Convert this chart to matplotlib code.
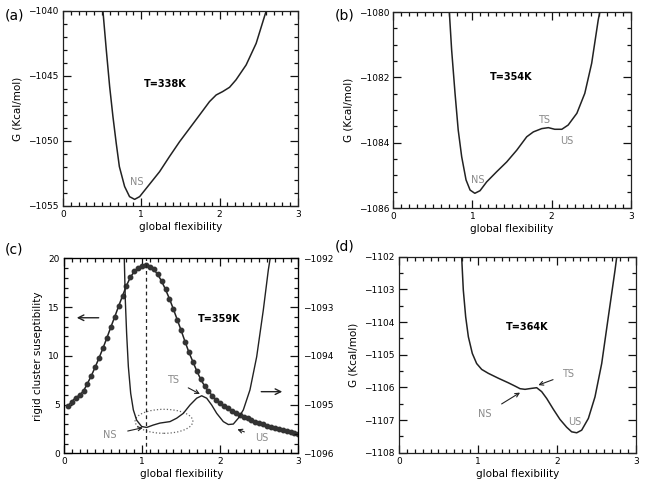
import numpy as np
import matplotlib
matplotlib.use('Agg')
import matplotlib.pyplot as plt
from matplotlib.ticker import MultipleLocator
from matplotlib.patches import Ellipse

# --- data ---
# (a) T=338K
a_x = [0.51, 0.553, 0.596, 0.638, 0.68, 0.72, 0.787, 0.85, 0.915, 0.979, 1.064, 1.149,
       1.234, 1.36, 1.49, 1.617, 1.745, 1.872, 1.957, 2.04, 2.128, 2.21, 2.34, 2.468, 2.596]
a_g = [-1040.0, -1043.0, -1045.82, -1048.13, -1050.18, -1051.97, -1053.5, -1054.28, -1054.49,
       -1054.28, -1053.64, -1053.0, -1052.36, -1051.2, -1050.05, -1049.03, -1048.0, -1046.97,
       -1046.46, -1046.2, -1045.87, -1045.3, -1044.15, -1042.49, -1040.0]

# (b) T=354K
b_x = [0.708, 0.737, 0.78, 0.82, 0.864, 0.919, 0.97, 1.03, 1.096, 1.18, 1.306, 1.433, 1.56,
       1.686, 1.77, 1.875, 1.96, 2.04, 2.13, 2.21, 2.32, 2.42, 2.507, 2.59, 2.61]
b_g = [-1080.0, -1081.16, -1082.49, -1083.61, -1084.43, -1085.14, -1085.45, -1085.55, -1085.47,
       -1085.2, -1084.89, -1084.59, -1084.23, -1083.82, -1083.67, -1083.57, -1083.54, -1083.59,
       -1083.59, -1083.46, -1083.1, -1082.49, -1081.57, -1080.24, -1080.0]

# (c) T=359K : rigid cluster susceptibility (left) and free energy (right)
c_sx = [0.05, 0.10, 0.15, 0.20, 0.25, 0.30, 0.35, 0.40, 0.45, 0.50, 0.55, 0.60, 0.65, 0.70,
        0.75, 0.80, 0.85, 0.90, 0.95, 1.00, 1.05, 1.10, 1.15, 1.20, 1.25, 1.30, 1.35, 1.40,
        1.45, 1.50, 1.55, 1.60, 1.65, 1.70, 1.75, 1.80, 1.85, 1.90, 1.95, 2.00, 2.05, 2.10,
        2.15, 2.20, 2.25, 2.30, 2.35, 2.40, 2.45, 2.50, 2.55, 2.60, 2.65, 2.70, 2.75, 2.80,
        2.85, 2.90, 2.95, 3.00]
c_s = [4.85, 5.30, 5.72, 5.95, 6.40, 7.15, 7.95, 8.85, 9.80, 10.80, 11.85, 12.95, 14.00, 15.10,
       16.15, 17.20, 18.05, 18.65, 19.05, 19.25, 19.32, 19.15, 18.85, 18.35, 17.65, 16.80, 15.85,
       14.80, 13.70, 12.60, 11.45, 10.35, 9.40, 8.45, 7.60, 6.90, 6.35, 5.90, 5.45, 5.12, 4.85,
       4.60, 4.35, 4.13, 3.95, 3.75, 3.57, 3.40, 3.25, 3.10, 2.97, 2.84, 2.71, 2.58, 2.45, 2.34,
       2.25, 2.17, 2.10, 2.03]
c_gx = [0.772, 0.785, 0.802, 0.824, 0.854, 0.888, 0.93, 0.994, 1.058, 1.144, 1.229, 1.357,
        1.443, 1.528, 1.613, 1.699, 1.763, 1.827, 1.891, 1.955, 2.04, 2.104, 2.168, 2.232,
        2.296, 2.381, 2.467, 2.552, 2.616, 2.64]
c_g = [-1092.0, -1092.85, -1093.54, -1094.22, -1094.77, -1095.11, -1095.32, -1095.45, -1095.47,
       -1095.42, -1095.38, -1095.35, -1095.28, -1095.18, -1095.01, -1094.87, -1094.82, -1094.87,
       -1095.01, -1095.18, -1095.35, -1095.41, -1095.40, -1095.28, -1095.11, -1094.70, -1094.02,
       -1093.06, -1092.24, -1092.0]
c_peak_x = 1.05

# (d) T=364K
d_x = [0.794, 0.815, 0.845, 0.879, 0.929, 0.984, 1.048, 1.132, 1.259, 1.386, 1.47, 1.534,
       1.597, 1.681, 1.745, 1.808, 1.872, 1.956, 2.04, 2.125, 2.188, 2.252, 2.315, 2.4, 2.484,
       2.569, 2.653, 2.738, 2.76]
d_g = [-1102.0, -1103.02, -1103.84, -1104.45, -1104.96, -1105.27, -1105.45, -1105.57, -1105.72,
       -1105.86, -1105.96, -1106.04, -1106.06, -1106.03, -1106.01, -1106.13, -1106.34, -1106.67,
       -1106.98, -1107.22, -1107.36, -1107.39, -1107.31, -1106.95, -1106.29, -1105.27, -1103.84,
       -1102.41, -1102.0]

LINE = '#222222'
GRAY = '#8a8a8a'
FS = 6.5
plt.rcParams['font.family'] = 'DejaVu Sans'

fig = plt.figure(figsize=(6.45, 4.9), dpi=100)


def ticks(ax, right=True):
    ax.tick_params(which='both', direction='in', top=True, right=right, labelsize=FS,
                   color='#111111', width=0.9, pad=3)
    ax.tick_params(which='major', length=5.5)
    ax.tick_params(which='minor', length=3)


def style(ax, ymaj, ymin, right=True):
    ax.set_xlim(0, 3)
    ax.xaxis.set_major_locator(MultipleLocator(1))
    ax.xaxis.set_minor_locator(MultipleLocator(0.1))
    ax.yaxis.set_major_locator(MultipleLocator(ymaj))
    ax.yaxis.set_minor_locator(MultipleLocator(ymin))
    ticks(ax, right)
    for s in ax.spines.values():
        s.set_color('#222222')
        s.set_linewidth(0.9)
    ax.set_xlabel('global flexibility', fontsize=7.5, labelpad=2)


# (a)
ax = fig.add_axes([0.0977, 0.5796, 0.364, 0.398])
ax.plot(a_x, a_g, color=LINE, lw=1.1)
ax.set_ylim(-1055, -1040)
style(ax, 5, 1)
ax.set_ylabel('G (Kcal/mol)', fontsize=7.5)
ax.text(1.30, -1045.6, 'T=338K', fontsize=7, fontweight='bold', ha='center', va='center')
ax.text(0.945, -1053.13, 'NS', fontsize=7, color=GRAY, ha='center', va='center')
fig.text(0.008, 0.968, '(a)', fontsize=10, va='center')

# (b)
ax = fig.add_axes([0.6098, 0.5755, 0.368, 0.4])
ax.plot(b_x, b_g, color=LINE, lw=1.1)
ax.set_ylim(-1086, -1080)
style(ax, 2, 0.5)
ax.set_ylabel('G (Kcal/mol)', fontsize=7.5)
ax.text(1.496, -1082.0, 'T=354K', fontsize=7, fontweight='bold', ha='center', va='center')
ax.text(1.062, -1085.13, 'NS', fontsize=7, color=GRAY, ha='center', va='center')
ax.text(1.905, -1083.32, 'TS', fontsize=7, color=GRAY, ha='center', va='center')
ax.text(2.19, -1083.94, 'US', fontsize=7, color=GRAY, ha='center', va='center')
fig.text(0.519, 0.968, '(b)', fontsize=10, va='center')

# (c)
ax = fig.add_axes([0.0992, 0.0749, 0.3633, 0.398])
ax.plot(c_sx, c_s, color=LINE, lw=1.1, marker='o', ms=3.2, mfc='#333333', mec='#333333')
ax.axvline(c_peak_x, color=LINE, lw=0.9, ls=(0, (3, 2.5)))
ax.set_ylim(0, 20)
style(ax, 5, 1, right=False)
ax.set_ylabel('rigid cluster suseptibility', fontsize=7.5)
ax.add_patch(Ellipse((1.28, 3.28), 0.74, 2.46, fill=False, ls=':', lw=0.9, ec='#666666'))
ax.annotate('', xy=(0.128, 13.9), xytext=(0.48, 13.9),
            arrowprops=dict(arrowstyle='->', color=LINE, lw=1.0))
ax.annotate('', xy=(2.83, 6.32), xytext=(2.49, 6.32),
            arrowprops=dict(arrowstyle='->', color=LINE, lw=1.0))
ax.annotate('NS', xy=(1.01, 2.63), xytext=(0.59, 1.88), fontsize=7, color=GRAY,
            ha='center', va='center',
            arrowprops=dict(arrowstyle='->', color=LINE, lw=0.8, shrinkA=6, shrinkB=0))
ax.annotate('TS', xy=(1.74, 6.08), xytext=(1.40, 7.52), fontsize=7, color=GRAY,
            ha='center', va='center',
            arrowprops=dict(arrowstyle='->', color=LINE, lw=0.8, shrinkA=5, shrinkB=0))
ax.annotate('US', xy=(2.22, 2.46), xytext=(2.53, 1.54), fontsize=7, color=GRAY,
            ha='center', va='center',
            arrowprops=dict(arrowstyle='->', color=LINE, lw=0.8, shrinkA=6, shrinkB=0))
ax.text(1.99, 13.78, 'T=359K', fontsize=7, fontweight='bold', ha='center', va='center')
fig.text(0.008, 0.49, '(c)', fontsize=10, va='center')

ax2 = ax.twinx()
ax2.plot(c_gx, c_g, color=LINE, lw=1.0)
ax2.set_ylim(-1096, -1092)
ax2.yaxis.set_major_locator(MultipleLocator(1))
ax2.yaxis.set_minor_locator(MultipleLocator(0.2))
ax2.tick_params(which='both', direction='in', labelsize=FS, color='#111111', width=0.9)
ax2.tick_params(which='major', length=5.5)
ax2.tick_params(which='minor', length=3)

# (d)
ax = fig.add_axes([0.6186, 0.0761, 0.367, 0.4])
ax.plot(d_x, d_g, color=LINE, lw=1.1)
ax.set_ylim(-1108, -1102)
style(ax, 1, 0.5)
ax.set_ylabel('G (Kcal/mol)', fontsize=7.5)
ax.text(1.62, -1104.14, 'T=364K', fontsize=7, fontweight='bold', ha='center', va='center')
ax.annotate('NS', xy=(1.534, -1106.16), xytext=(1.09, -1106.82), fontsize=7, color=GRAY,
            ha='center', va='center',
            arrowprops=dict(arrowstyle='->', color=LINE, lw=0.8, shrinkA=6, shrinkB=0))
ax.annotate('TS', xy=(1.766, -1105.93), xytext=(2.146, -1105.59), fontsize=7, color=GRAY,
            ha='center', va='center',
            arrowprops=dict(arrowstyle='->', color=LINE, lw=0.8, shrinkA=5, shrinkB=0))
ax.text(2.23, -1107.07, 'US', fontsize=7, color=GRAY, ha='center', va='center')
fig.text(0.519, 0.496, '(d)', fontsize=10, va='center')

fig.savefig('out.png', dpi=100)
